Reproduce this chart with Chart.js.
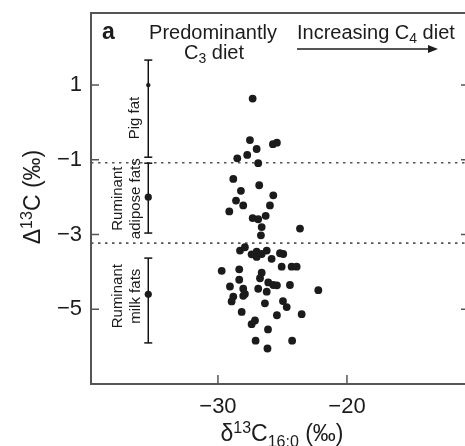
<!DOCTYPE html>
<html>
<head>
<meta charset="utf-8">
<script src="https://cdn.jsdelivr.net/npm/chart.js@4.4.1/dist/chart.umd.min.js"></script>
<style>
  html, body { margin: 0; padding: 0; background: #fff; overflow: hidden; }
  #wrap { width: 465px; height: 446px; overflow: hidden; }
</style>
</head>
<body>
<div id="wrap"><canvas id="chart" width="480" height="446"></canvas></div>
<script>
// residues: d13C of C16:0 (x) against Big-Delta 13C (y)
var d13C16 = [
  -27.31, -27.52, -25.74, -25.43, -27.00, -27.73, -28.50, -26.88, -28.81, -26.80,
  -28.22, -25.71, -28.60, -28.04, -25.97, -29.12, -26.30, -27.31, -26.88, -26.61,
  -23.64, -26.67, -28.29, -27.91, -27.39, -27.00, -26.61, -26.22, -25.84, -25.19,
  -24.94, -25.06, -24.29, -23.90, -29.71, -28.35, -26.61, -28.35, -26.74, -26.10,
  -25.71, -25.43, -29.07, -28.04, -27.91, -26.88, -26.22, -24.42, -22.22, -28.81,
  -28.94, -28.04, -26.36, -24.96, -24.67, -28.16, -25.43, -23.51, -27.13, -27.39,
  -26.12, -27.08, -24.25, -26.16, -27.00
];
var bigD13C = [
   0.64, -0.47, -0.58, -0.54, -0.71, -0.87, -0.96, -1.09, -1.51, -1.68,
  -1.83, -1.95, -2.09, -2.22, -2.22, -2.38, -2.50, -2.56, -2.59, -2.80,
  -2.84, -3.02, -3.43, -3.34, -3.53, -3.46, -3.52, -3.43, -3.65, -3.50,
  -3.52, -3.86, -3.86, -3.86, -3.97, -3.93, -4.02, -4.21, -4.17, -4.28,
  -4.35, -4.36, -4.39, -4.45, -4.59, -4.45, -4.53, -4.35, -4.49, -4.66,
  -4.79, -4.64, -4.84, -4.78, -4.94, -5.07, -5.16, -5.13, -5.30, -5.40,
  -5.54, -5.84, -5.84, -6.05, -3.60
];

// modern reference fats (mean and range)
var refNames = [['Pig fat'], ['Ruminant', 'adipose fats'], ['Ruminant', 'milk fats']];
var refX = [-35.4, -35.4, -35.4];
var refMean = [1.0, -2.0, -4.6];
var refLow = [-0.93, -2.96, -5.9];
var refHigh = [1.67, -1.09, -3.63];

var dividers = [-1.08, -3.23];
var xTicks = [-30, -20];
var yTicks = [1, -1, -3, -5];
var xRange = [-39.84, -10.54];
var yRange = [-7, 2.93];

var FONT = "'Liberation Sans', Arial, Helvetica, sans-serif";
var INK = '#1c1c1c';
var AXIS = '#555';

function fmt(v) {
  return v < 0 ? '\u2212' + Math.abs(v) : String(v);
}

// draw a run of text pieces, some of them raised or lowered
function drawRich(ctx, parts, x, y, size, align) {
  var small = Math.round(size * 0.68);
  var w = 0;
  parts.forEach(function (p) {
    ctx.font = (p[1] ? small : size) + 'px ' + FONT;
    w += ctx.measureText(p[0]).width;
  });
  var cx = align === 'center' ? x - w / 2 : x;
  ctx.textAlign = 'left';
  ctx.textBaseline = 'middle';
  parts.forEach(function (p) {
    ctx.font = (p[1] ? small : size) + 'px ' + FONT;
    var dy = p[1] === 'sup' ? -size * 0.3 : p[1] === 'sub' ? size * 0.32 : 0;
    ctx.fillText(p[0], cx, y + dy);
    cx += ctx.measureText(p[0]).width;
  });
}

var extras = {
  id: 'extras',
  afterDraw: function (chart) {
    var ctx = chart.ctx;
    var a = chart.chartArea;
    var xs = chart.scales.x, ys = chart.scales.y;
    ctx.save();

    // frame top / right and inward ticks
    ctx.strokeStyle = AXIS;
    ctx.lineWidth = 2;
    ctx.beginPath();
    ctx.moveTo(a.left, a.top); ctx.lineTo(a.right, a.top); ctx.lineTo(a.right, a.bottom);
    ctx.stroke();
    ctx.lineWidth = 1.5;
    ctx.beginPath();
    yTicks.forEach(function (v) {
      var py = ys.getPixelForValue(v);
      ctx.moveTo(a.left, py); ctx.lineTo(a.left + 8, py);
      ctx.moveTo(a.right, py); ctx.lineTo(a.right - 8, py);
    });
    xTicks.forEach(function (v) {
      var px = xs.getPixelForValue(v);
      ctx.moveTo(px, a.bottom); ctx.lineTo(px, a.bottom - 9);
    });
    ctx.stroke();

    ctx.fillStyle = INK;

    // axis titles
    drawRich(ctx, [['\u03b4', ''], ['13', 'sup'], ['C', ''], ['16:0', 'sub'], [' (\u2030)', '']], 282, 435, 23, 'center');
    ctx.save();
    ctx.translate(34, 197);
    ctx.rotate(-Math.PI / 2);
    drawRich(ctx, [['\u0394', ''], ['13', 'sup'], ['C (\u2030)', '']], 0, 0, 23, 'center');
    ctx.restore();

    // panel letter and diet notes
    ctx.font = 'bold 23px ' + FONT;
    ctx.textAlign = 'left';
    ctx.textBaseline = 'middle';
    ctx.fillText('a', a.left + 11, 33);
    drawRich(ctx, [['Predominantly', '']], 213, 33, 20, 'center');
    drawRich(ctx, [['C', ''], ['3', 'sub'], [' diet', '']], 214, 53, 20, 'center');
    drawRich(ctx, [['Increasing C', ''], ['4', 'sub'], [' diet', '']], 297, 33, 20, 'left');

    ctx.strokeStyle = INK;
    ctx.lineWidth = 1.5;
    ctx.beginPath();
    ctx.moveTo(297, 49); ctx.lineTo(432, 49);
    ctx.stroke();
    ctx.beginPath();
    ctx.moveTo(438, 49); ctx.lineTo(428, 45); ctx.lineTo(428, 53);
    ctx.closePath();
    ctx.fill();

    // reference fat labels, rotated beside their bars
    var labelCentres = [0.12, -2.04, -4.65];
    refNames.forEach(function (lines, i) {
      var bx = xs.getPixelForValue(refX[i]);
      var cy = ys.getPixelForValue(labelCentres[i]);
      ctx.save();
      ctx.translate(bx, cy);
      ctx.rotate(-Math.PI / 2);
      ctx.font = '15px ' + FONT;
      ctx.textAlign = 'center';
      ctx.textBaseline = 'middle';
      var n = lines.length;
      lines.forEach(function (t, k) {
        var off = n === 1 ? -13 : (k === 0 ? -30 : -12);
        ctx.fillText(t, 0, off);
      });
      ctx.restore();
    });

    ctx.restore();
  }
};

var datasets = [];

datasets.push({
  type: 'scatter',
  data: d13C16.map(function (x, i) { return { x: x, y: bigD13C[i] }; }),
  pointRadius: 3.9,
  pointBackgroundColor: '#1b1b1b',
  pointBorderWidth: 0
});

datasets.push({
  type: 'scatter',
  data: refX.map(function (x, i) { return { x: x, y: refMean[i] }; }),
  pointRadius: [2.2, 3.6, 3.6],
  pointBackgroundColor: '#1b1b1b',
  pointBorderWidth: 0
});

refX.forEach(function (x, i) {
  datasets.push({
    type: 'line',
    data: [{ x: x, y: refLow[i] }, { x: x, y: refHigh[i] }],
    borderColor: '#111',
    borderWidth: 1.5,
    pointStyle: 'line',
    pointRadius: 4,
    pointBorderColor: '#111',
    pointBorderWidth: 1.5
  });
});

dividers.forEach(function (v) {
  datasets.push({
    type: 'line',
    data: [{ x: xRange[0], y: v }, { x: xRange[1], y: v }],
    borderColor: '#555',
    borderWidth: 1.6,
    borderDash: [2.5, 4.5],
    pointRadius: 0
  });
});

new Chart(document.getElementById('chart'), {
  type: 'scatter',
  data: { datasets: datasets },
  options: {
    responsive: false,
    animation: false,
    layout: { padding: { top: 13, right: 11, left: 0, bottom: 0 } },
    plugins: { legend: { display: false }, tooltip: { enabled: false } },
    scales: {
      x: {
        type: 'linear',
        min: xRange[0],
        max: xRange[1],
        afterBuildTicks: function (s) { s.ticks = xTicks.map(function (v) { return { value: v }; }); },
        afterFit: function (s) { s.height = 62; s.paddingLeft = 0; s.paddingRight = 0; },
        grid: { display: false, drawTicks: false },
        border: { display: true, color: AXIS, width: 2 },
        ticks: {
          padding: 10,
          color: INK,
          font: { family: FONT, size: 22 },
          callback: function (v) { return fmt(v); }
        }
      },
      y: {
        type: 'linear',
        min: yRange[0],
        max: yRange[1],
        afterBuildTicks: function (s) { s.ticks = yTicks.map(function (v) { return { value: v }; }); },
        afterFit: function (s) { s.width = 91; s.paddingTop = 0; s.paddingBottom = 0; },
        grid: { display: false, drawTicks: false },
        border: { display: true, color: AXIS, width: 2 },
        ticks: {
          padding: 9,
          color: INK,
          font: { family: FONT, size: 22 },
          callback: function (v) { return fmt(v); }
        }
      }
    }
  },
  plugins: [extras]
});
</script>
</body>
</html>
